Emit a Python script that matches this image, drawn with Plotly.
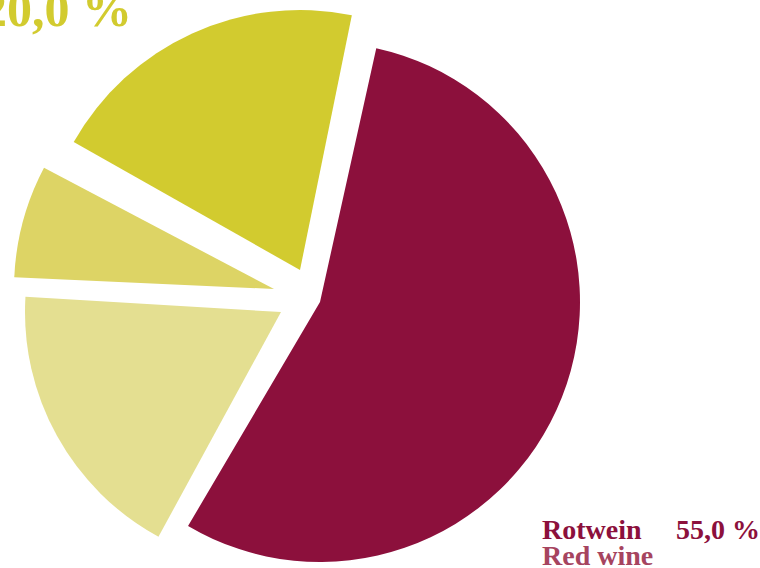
import plotly.graph_objects as go

# ---- data ----
labels_de = ["Rotwein", "Segment B", "Segment C", "Segment D"]
labels_en = ["Red wine", "Segment B", "Segment C", "Segment D"]
values = [55, 18, 7, 20]
colors = ["#8C103C", "#E4DF91", "#DDD465", "#D2CB2F"]

# ---- layout geometry (pixels) ----
W, H = 760, 568
# each slice is drawn as its own pie trace so it can be offset ("pulled") independently
slice_centers = [(320, 302), (281, 312), (274, 289), (300, 270)]
slice_radius = [260, 256, 260, 260]
slice_rotation = [12.5, 10.6, 9.8, 11.5]

fig = go.Figure()
for i in range(len(values)):
    cx, cy = slice_centers[i]
    r = slice_radius[i]
    cols = [colors[j] if j == i else "rgba(0,0,0,0)" for j in range(len(values))]
    fig.add_trace(go.Pie(
        labels=labels_de,
        values=values,
        sort=False,
        direction="clockwise",
        rotation=slice_rotation[i],
        marker=dict(colors=cols, line=dict(width=0)),
        textinfo="none",
        hoverinfo="skip",
        showlegend=False,
        domain=dict(
            x=[(cx - r) / W, (cx + r) / W],
            y=[(H - (cy + r)) / H, (H - (cy - r)) / H],
        ),
    ))

def fmt(v):
    return f"{v:.1f}".replace(".", ",") + " %"

def py(ypx):
    return 1 - ypx / H

serif = "Liberation Serif"
annotations = [
    dict(text=f"<b>{fmt(values[3])}</b>", x=134 / W, y=py(9), xanchor="right", yanchor="middle",
         font=dict(family=serif, size=50, color=colors[3])),
    dict(text=f"<b>{labels_de[0]}</b>", x=540 / W, y=py(529), xanchor="left", yanchor="middle",
         font=dict(family=serif, size=28, color="#8C103C")),
    dict(text=f"<b>{fmt(values[0])}</b>", x=762 / W, y=py(529), xanchor="right", yanchor="middle",
         font=dict(family=serif, size=28, color="#8C103C")),
    dict(text=f"<b>{labels_en[0]}</b>", x=540 / W, y=py(555), xanchor="left", yanchor="middle",
         font=dict(family=serif, size=28, color="#A6445F")),
]
for a in annotations:
    a.update(xref="paper", yref="paper", showarrow=False)

fig.update_layout(
    width=W, height=H,
    margin=dict(l=0, r=0, t=0, b=0),
    paper_bgcolor="white",
    plot_bgcolor="white",
    annotations=annotations,
)

fig.write_html("out.html")
